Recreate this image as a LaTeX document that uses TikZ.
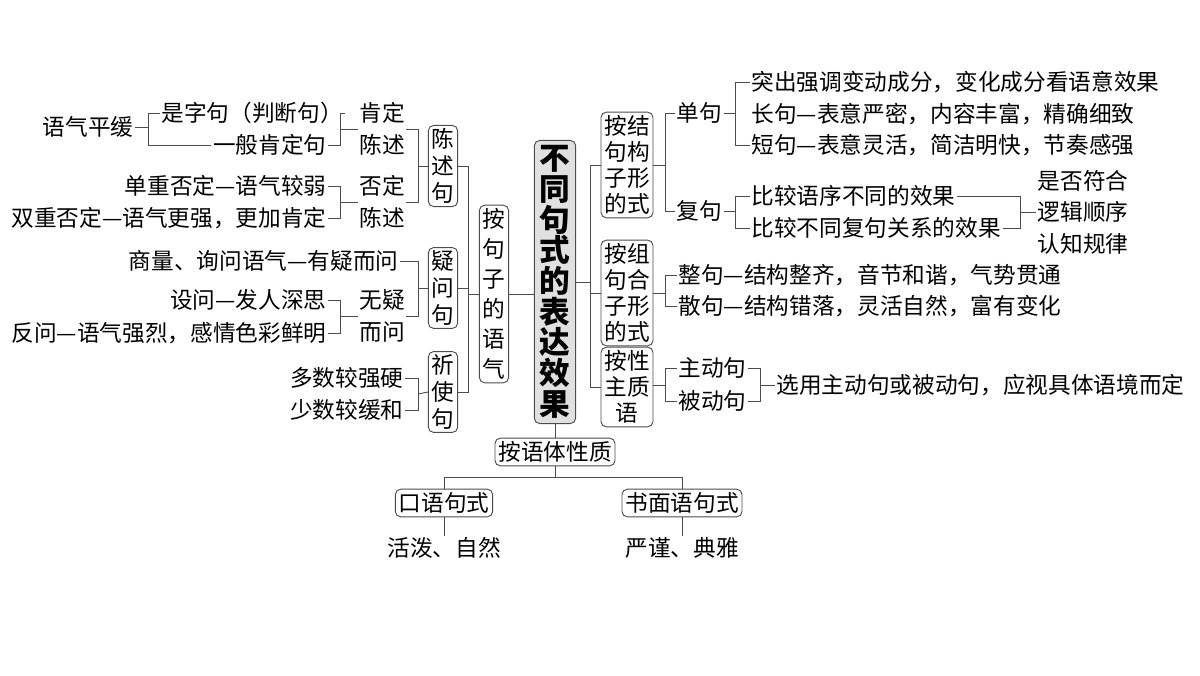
\documentclass[tikz,border=0pt]{standalone}
\usepackage{fontspec}
\newfontfamily\cjk{Noto Sans CJK SC}
\begin{document}
\begin{tikzpicture}[x=0.75pt,y=-0.75pt,
 every node/.style={font=\cjk\fontsize{17}{20}\selectfont, inner sep=1pt, text=black},
 box/.style={draw=black!70, fill=white, rounded corners=4pt, line width=0.7pt, align=center, inner sep=2.5pt},
 two/.style={align=center, font=\cjk\fontsize{17}{24}\selectfont},
 ln/.style={draw=black!70, line width=0.7pt}]
\useasboundingbox (0,0) rectangle (1200,675);
% main
\node[box, fill=black!12, font=\cjk\bfseries\fontsize{23}{23}\selectfont, inner sep=4pt] (main) at (555,282) {不\\同\\句\\式\\的\\表\\达\\效\\果};
% left: 陈述句
\node[anchor=east] (yq) at (135,127) {语气平缓};
\node[anchor=west] (szj) at (160,113) {是字句（判断句）};
\node[anchor=east] (ybk) at (328,145) {一般肯定句};
\node[two] (kd) at (382,129) {肯定\\陈述};
\draw[ln] (yq.east) -- (148,127);
\draw[ln] (szj.west) -- (148,113) -- (148,145) -- (ybk.west);
\draw[ln] (szj.east) -- (340,113) -- (340,145) -- (ybk.east);
\draw[ln] (340,129) -- (kd.west);
\node[anchor=east] (dc) at (328,186) {单重否定—语气较弱};
\node[anchor=east] (sc) at (328,218) {双重否定—语气更强，更加肯定};
\node[two] (fd) at (382,202) {否定\\陈述};
\draw[ln] (dc.east) -- (340,186) -- (340,218) -- (sc.east);
\draw[ln] (340,202) -- (fd.west);
\node[box] (cs) at (443,166) {陈\\述\\句};
\draw[ln] (kd.east) -- (418,129) -- (418,202) -- (fd.east);
\draw[ln] (418,166) -- (cs.west);
% 疑问句
\node[anchor=east] (sl) at (400,261) {商量、询问语气—有疑而问};
\node[anchor=east] (sw) at (328,300) {设问—发人深思};
\node[anchor=east] (fw) at (328,333) {反问—语气强烈，感情色彩鲜明};
\node[two] (wy) at (382,316) {无疑\\而问};
\draw[ln] (sw.east) -- (340,300) -- (340,333) -- (fw.east);
\draw[ln] (340,316) -- (wy.west);
\node[box] (yw) at (443,288) {疑\\问\\句};
\draw[ln] (sl.east) -- (418,261) -- (418,316) -- (wy.east);
\draw[ln] (418,288) -- (yw.west);
% 祈使句
\node[anchor=east] (dsh) at (405,378) {多数较强硬};
\node[anchor=east] (ssh) at (405,410) {少数较缓和};
\node[box] (qs) at (443,392) {祈\\使\\句};
\draw[ln] (dsh.east) -- (418,378) -- (418,410) -- (ssh.east);
\draw[ln] (418,394) -- (qs.west);
% 按句子的语气
\node[box, font=\cjk\fontsize{17}{22.5}\selectfont] (ay) at (494,294) {按\\句\\子\\的\\语\\气};
\draw[ln] (cs.east) -- (468,166) -- (468,392) -- (qs.east);
\draw[ln] (yw.east) -- (468,288);
\draw[ln] (468,294) -- (ay.west);
\draw[ln] (ay.east) -- (ay.east -| main.west);
% right boxes
\node[box, font=\cjk\fontsize{17}{19.5}\selectfont] (jg) at (627,165) {按结\\句构\\子形\\的式};
\node[box, font=\cjk\fontsize{17}{19.5}\selectfont] (zh) at (627,293) {按组\\句合\\子形\\的式};
\node[box, font=\cjk\fontsize{17}{19.5}\selectfont] (xz) at (627,387) {按性\\主质\\语};
\draw[ln] (main.east |- 0,282) -- (590,282);
\draw[ln] (jg.west) -- (590,165) -- (590,387) -- (xz.west);
\draw[ln] (590,293) -- (zh.west);
% 单句 复句
\node[anchor=west] (dj) at (675,113) {单句};
\node[anchor=west] (fj) at (675,211) {复句};
\draw[ln] (jg.east) -- (665,165);
\draw[ln] (dj.west) -- (665,113) -- (665,211) -- (fj.west);
\node[anchor=west] (t1) at (750,82) {突出强调变动成分，变化成分看语意效果};
\node[anchor=west] (t2) at (750,114) {长句—表意严密，内容丰富，精确细致};
\node[anchor=west] (t3) at (750,145) {短句—表意灵活，简洁明快，节奏感强};
\draw[ln] (dj.east) -- (735,113);
\draw[ln] (t1.west) -- (735,82) -- (735,145) -- (t3.west);
\node[anchor=west] (t4) at (750,196) {比较语序不同的效果};
\node[anchor=west] (t5) at (750,228) {比较不同复句关系的效果};
\draw[ln] (fj.east) -- (735,211);
\draw[ln] (t4.west) -- (735,196) -- (735,228) -- (t5.west);
\node[align=center, font=\cjk\fontsize{17}{23.6}\selectfont] (lg) at (1083,212) {是否符合\\逻辑顺序\\认知规律};
\draw[ln] (t4.east) -- (1020,196) -- (1020,228) -- (t5.east);
\draw[ln] (1020,212) -- (lg.west);
% 整句 散句
\node[anchor=west] (zj) at (677,275) {整句—结构整齐，音节和谐，气势贯通};
\node[anchor=west] (sj) at (677,306) {散句—结构错落，灵活自然，富有变化};
\draw[ln] (zh.east) -- (665,293);
\draw[ln] (zj.west) -- (665,275) -- (665,306) -- (sj.west);
% 主动句 被动句
\node[anchor=west] (zd) at (677,368) {主动句};
\node[anchor=west] (bd) at (677,401) {被动句};
\node[anchor=west] (xy) at (775,385) {选用主动句或被动句，应视具体语境而定};
\draw[ln] (xz.east |- 0,385) -- (665,385);
\draw[ln] (zd.west) -- (665,368) -- (665,401) -- (bd.west);
\draw[ln] (zd.east) -- (760,368) -- (760,401) -- (bd.east);
\draw[ln] (760,385) -- (xy.west);
% bottom
\node[box] (yt) at (555,452) {按语体性质};
\node[box] (ky) at (444,503) {口语句式};
\node[box] (sm) at (682,503) {书面语句式};
\node (hp) at (444,548) {活泼、自然};
\node (yd) at (682,548) {严谨、典雅};
\draw[ln] (main.south) -- (yt.north);
\draw[ln] (yt.south) -- (555,477);
\draw[ln] (ky.north) -- (ky.north |- 0,477) -- (sm.north |- 0,477) -- (sm.north);
\draw[ln] (ky.south) -- (hp.north);
\draw[ln] (sm.south) -- (yd.north);
\end{tikzpicture}
\end{document}
